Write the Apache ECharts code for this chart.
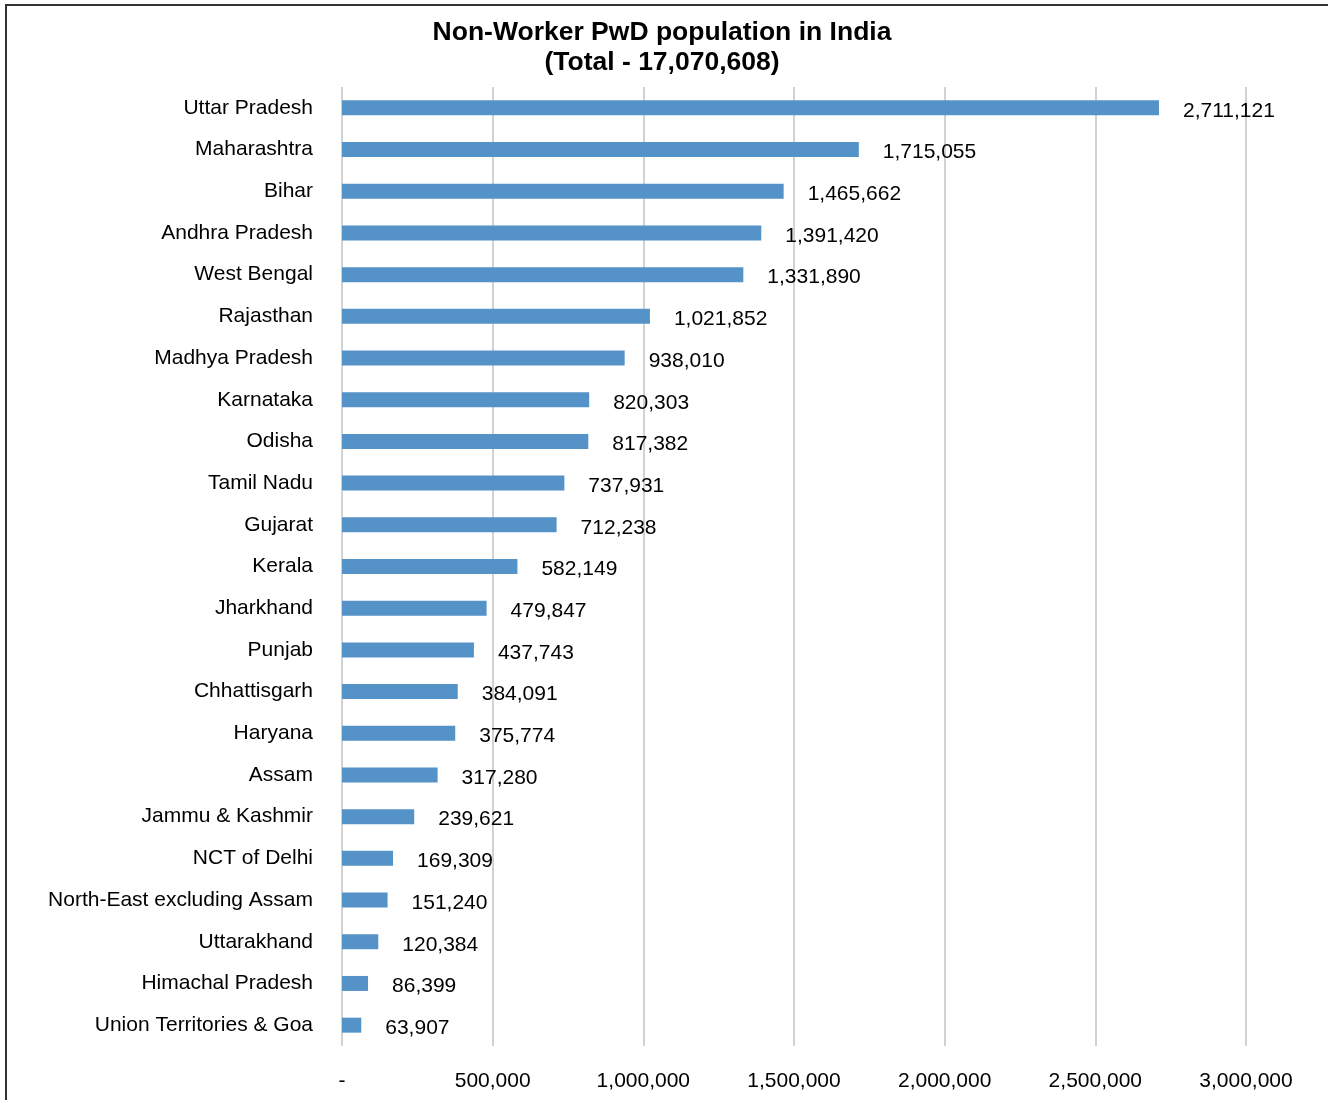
<!DOCTYPE html>
<html>
<head>
<meta charset="utf-8">
<script src="https://cdn.jsdelivr.net/npm/echarts@6/dist/echarts.min.js"></script>
<style>
  html, body { margin: 0; padding: 0; background: #fff; }
  #chart { width: 1328px; height: 1100px; }
</style>
</head>
<body>
<div id="chart"></div>
<script>
// Non-working persons with disabilities by state
const states = [
  'Uttar Pradesh', 'Maharashtra', 'Bihar', 'Andhra Pradesh', 'West Bengal',
  'Rajasthan', 'Madhya Pradesh', 'Karnataka', 'Odisha', 'Tamil Nadu',
  'Gujarat', 'Kerala', 'Jharkhand', 'Punjab', 'Chhattisgarh', 'Haryana',
  'Assam', 'Jammu & Kashmir', 'NCT of Delhi', 'North-East excluding Assam',
  'Uttarakhand', 'Himachal Pradesh', 'Union Territories & Goa'
];
const nonWorkers = [
  2711121, 1715055, 1465662, 1391420, 1331890,
  1021852, 938010, 820303, 817382, 737931,
  712238, 582149, 479847, 437743, 384091, 375774,
  317280, 239621, 169309, 151240,
  120384, 86399, 63907
];
const axisTicks = [0, 500000, 1000000, 1500000, 2000000, 2500000, 3000000];

const fmt = v => v === 0 ? '-' : v.toLocaleString('en-US');
const font = "'Liberation Sans', Arial, sans-serif";

const chart = echarts.init(document.getElementById('chart'));
chart.setOption({
  animation: false,
  textStyle: { fontFamily: font },
  title: {
    text: 'Non-Worker PwD population in India\n(Total - 17,070,608)',
    left: 657,
    textAlign: 'center',
    top: 13,
    textStyle: { fontSize: 26.5, fontWeight: 'bold', color: '#000', lineHeight: 30, fontFamily: font }
  },
  graphic: [{
    type: 'rect',
    shape: { x: 6, y: 5, width: 1340, height: 1120 },
    style: { fill: 'none', stroke: '#333', lineWidth: 2 },
    silent: true
  }],
  grid: { left: 342, right: 82, top: 87, height: 959, containLabel: false },
  xAxis: {
    type: 'value',
    min: axisTicks[0],
    max: axisTicks[axisTicks.length - 1],
    interval: axisTicks[1] - axisTicks[0],
    axisLine: { show: false },
    axisTick: { show: false },
    splitLine: { show: true, lineStyle: { color: '#d2d2d2', width: 2 } },
    axisLabel: { formatter: fmt, fontSize: 21, color: '#000', margin: 25 }
  },
  yAxis: {
    type: 'category',
    data: states,
    inverse: true,
    axisLine: { show: false },
    axisTick: { show: false },
    axisLabel: { fontSize: 21, color: '#000', margin: 29, padding: [5, 0, 0, 0] }
  },
  series: [{
    type: 'bar',
    data: nonWorkers,
    barWidth: 15,
    itemStyle: { color: '#5592c8' },
    label: {
      show: true,
      position: 'right',
      distance: 24,
      offset: [0, 3],
      fontSize: 21,
      color: '#000',
      formatter: p => fmt(p.value)
    }
  }]
});
</script>
</body>
</html>
